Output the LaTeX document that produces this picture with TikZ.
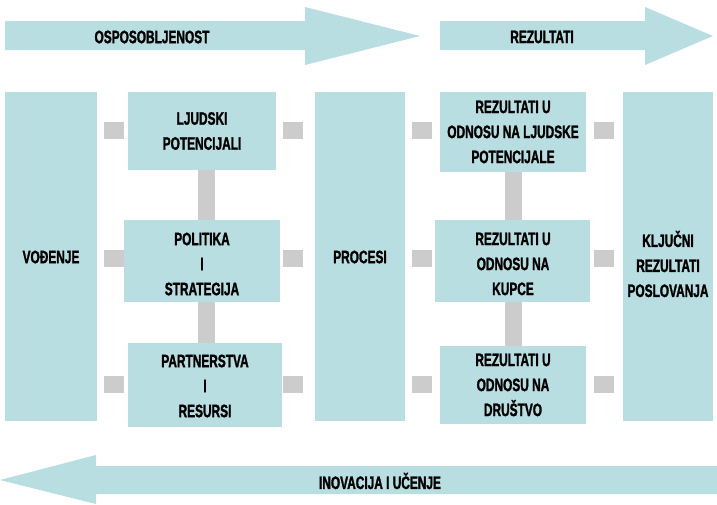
\documentclass[tikz,border=0pt]{standalone}
\usepackage{fontspec}
\setmainfont{Liberation Sans}[FakeStretch=0.66,FakeBold=1.5]
\begin{document}
\begin{tikzpicture}[x=1pt,y=-1pt,
 box/.style={fill=teal1,draw=none},
 lab/.style={font=\bfseries\fontsize{18}{25}\selectfont,align=center,text=black},
 gr/.style={fill=gray!40,draw=none}]
\definecolor{teal1}{HTML}{B8DEE2}
\useasboundingbox (0,0) rectangle (717,504);
% arrows
\fill[teal1] (5,21) -- (305,21) -- (305,7) -- (420,36) -- (305,65) -- (305,50) -- (5,50) -- cycle;
\node[lab] (a1) at (152,37) {OSPOSOBLJENOST};
\fill[teal1] (440,21) -- (645,21) -- (645,7) -- (713,36) -- (645,65) -- (645,50) -- (440,50) -- cycle;
\node[lab] (a2) at (542,37) {REZULTATI};
\fill[teal1] (717,466) -- (96,466) -- (96,455) -- (0,480) -- (96,504) -- (96,494) -- (717,494) -- cycle;
\node[lab] (a3) at (380,481) {INOVACIJA I UČENJE};
% connectors
\foreach \x in {104,283,412,594}{\foreach \y in {122,250,376}{\fill[gr] (\x,\y) rectangle +(20,17);}}
\fill[gr] (198,170) rectangle (215,220);
\fill[gr] (198,302) rectangle (215,343);
\fill[gr] (505,172) rectangle (522,220);
\fill[gr] (505,302) rectangle (522,346);
% boxes
\fill[box] (5,92) rectangle (97,421);
\node[lab] (v) at (51,257) {VOĐENJE};
\fill[box] (128,92) rectangle (276,170);
\node[lab] (lj) at (202,131) {LJUDSKI\\POTENCIJALI};
\fill[box] (124,220) rectangle (280,302);
\node[lab] (po) at (202,264) {POLITIKA\\I\\STRATEGIJA};
\fill[box] (128,343) rectangle (282,427);
\node[lab] (pa) at (205,386) {PARTNERSTVA\\I\\RESURSI};
\fill[box] (315,92) rectangle (405,421);
\node[lab] (pr) at (360,257) {PROCESI};
\fill[box] (440,92) rectangle (586,172);
\node[lab] (r1) at (513,132) {REZULTATI U\\ODNOSU NA LJUDSKE\\POTENCIJALE};
\fill[box] (435,220) rectangle (590,302);
\node[lab] (r2) at (513,264) {REZULTATI U\\ODNOSU NA\\KUPCE};
\fill[box] (440,346) rectangle (586,424);
\node[lab] (r3) at (513,385) {REZULTATI U\\ODNOSU NA\\DRUŠTVO};
\fill[box] (623,92) rectangle (713,421);
\node[lab] (k) at (668,264) {KLJUČNI\\REZULTATI\\POSLOVANJA};
\end{tikzpicture}
\end{document}
